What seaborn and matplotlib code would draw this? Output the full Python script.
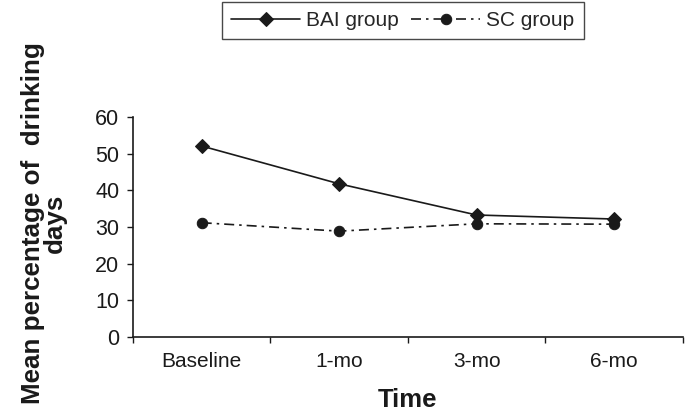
import matplotlib
matplotlib.use("Agg")
import matplotlib.pyplot as plt
import seaborn as sns
import pandas as pd
from matplotlib.ticker import FixedLocator, NullFormatter

time_points = ["Baseline", "1-mo", "3-mo", "6-mo"]
bai_values = [52.1, 41.8, 33.3, 32.2]
sc_values = [31.2, 28.9, 30.9, 30.8]
series_names = ["BAI group", "SC group"]
y_ticks = [0, 10, 20, 30, 40, 50, 60]

sns.set_theme(style="white")
plt.rcParams['font.family'] = ['Liberation Sans', 'DejaVu Sans']

df = pd.DataFrame({
    "Time": time_points * 2,
    "Value": bai_values + sc_values,
    "Group": [series_names[0]] * 4 + [series_names[1]] * 4,
})

fig = plt.figure(figsize=(6.91, 4.15), dpi=100)
ax = fig.add_axes([0.1925, 0.1875, 0.7955, 0.5305])

ink = "#1a1a1a"
d1 = df[df.Group == series_names[0]]
d2 = df[df.Group == series_names[1]]
sns.lineplot(data=d1, x="Time", y="Value", ax=ax, color=ink, lw=1.2,
             marker="D", markersize=7, markeredgecolor=ink, label=series_names[0], sort=False)
sns.lineplot(data=d2, x="Time", y="Value", ax=ax, color=ink, lw=1.2,
             marker="o", markersize=7.5, markeredgecolor=ink, label=series_names[1], sort=False)
ax.lines[1].set_dashes([6, 3, 1.5, 3])

ax.set_xlim(-0.5, 3.5)
ax.set_ylim(0, 60)
ax.set_yticks(y_ticks)
ax.set_xticks(range(4))
ax.set_xticklabels(time_points)
ax.xaxis.set_minor_locator(FixedLocator([-0.5, 0.5, 1.5, 2.5, 3.5]))
ax.xaxis.set_minor_formatter(NullFormatter())
ax.tick_params(axis="x", which="major", length=0, labelsize=15, pad=11, colors=ink)
ax.tick_params(axis="x", which="minor", length=4, width=1, direction="out", bottom=True, color=ink)
ax.tick_params(axis="y", length=4, width=1, direction="out", left=True, labelsize=15.5, pad=6, colors=ink)
for s in ["top", "right"]:
    ax.spines[s].set_visible(False)
for s in ["left", "bottom"]:
    ax.spines[s].set_color(ink)
    ax.spines[s].set_linewidth(1.2)

ax.set_xlabel("Time", fontsize=18.5, fontweight="bold", labelpad=12, color=ink)
ax.set_ylabel("")
fig.text(0.0637, 0.463, "Mean percentage of  drinking\ndays", rotation=90, ha="center", va="center",
         multialignment="center", fontsize=18.7, fontweight="bold", color=ink, linespacing=0.88)

ax.get_legend().remove()
h, l = ax.get_legend_handles_labels()
leg = fig.legend(h, l, loc="upper center", bbox_to_anchor=(0.583, 0.996), ncol=2, frameon=True,
                 fancybox=False, edgecolor=ink, fontsize=15, handlelength=3.3,
                 columnspacing=0.6, handletextpad=0.3, borderpad=0.45, borderaxespad=0.0)
leg.get_frame().set_linewidth(1.0)

fig.savefig("out.png", dpi=100)
